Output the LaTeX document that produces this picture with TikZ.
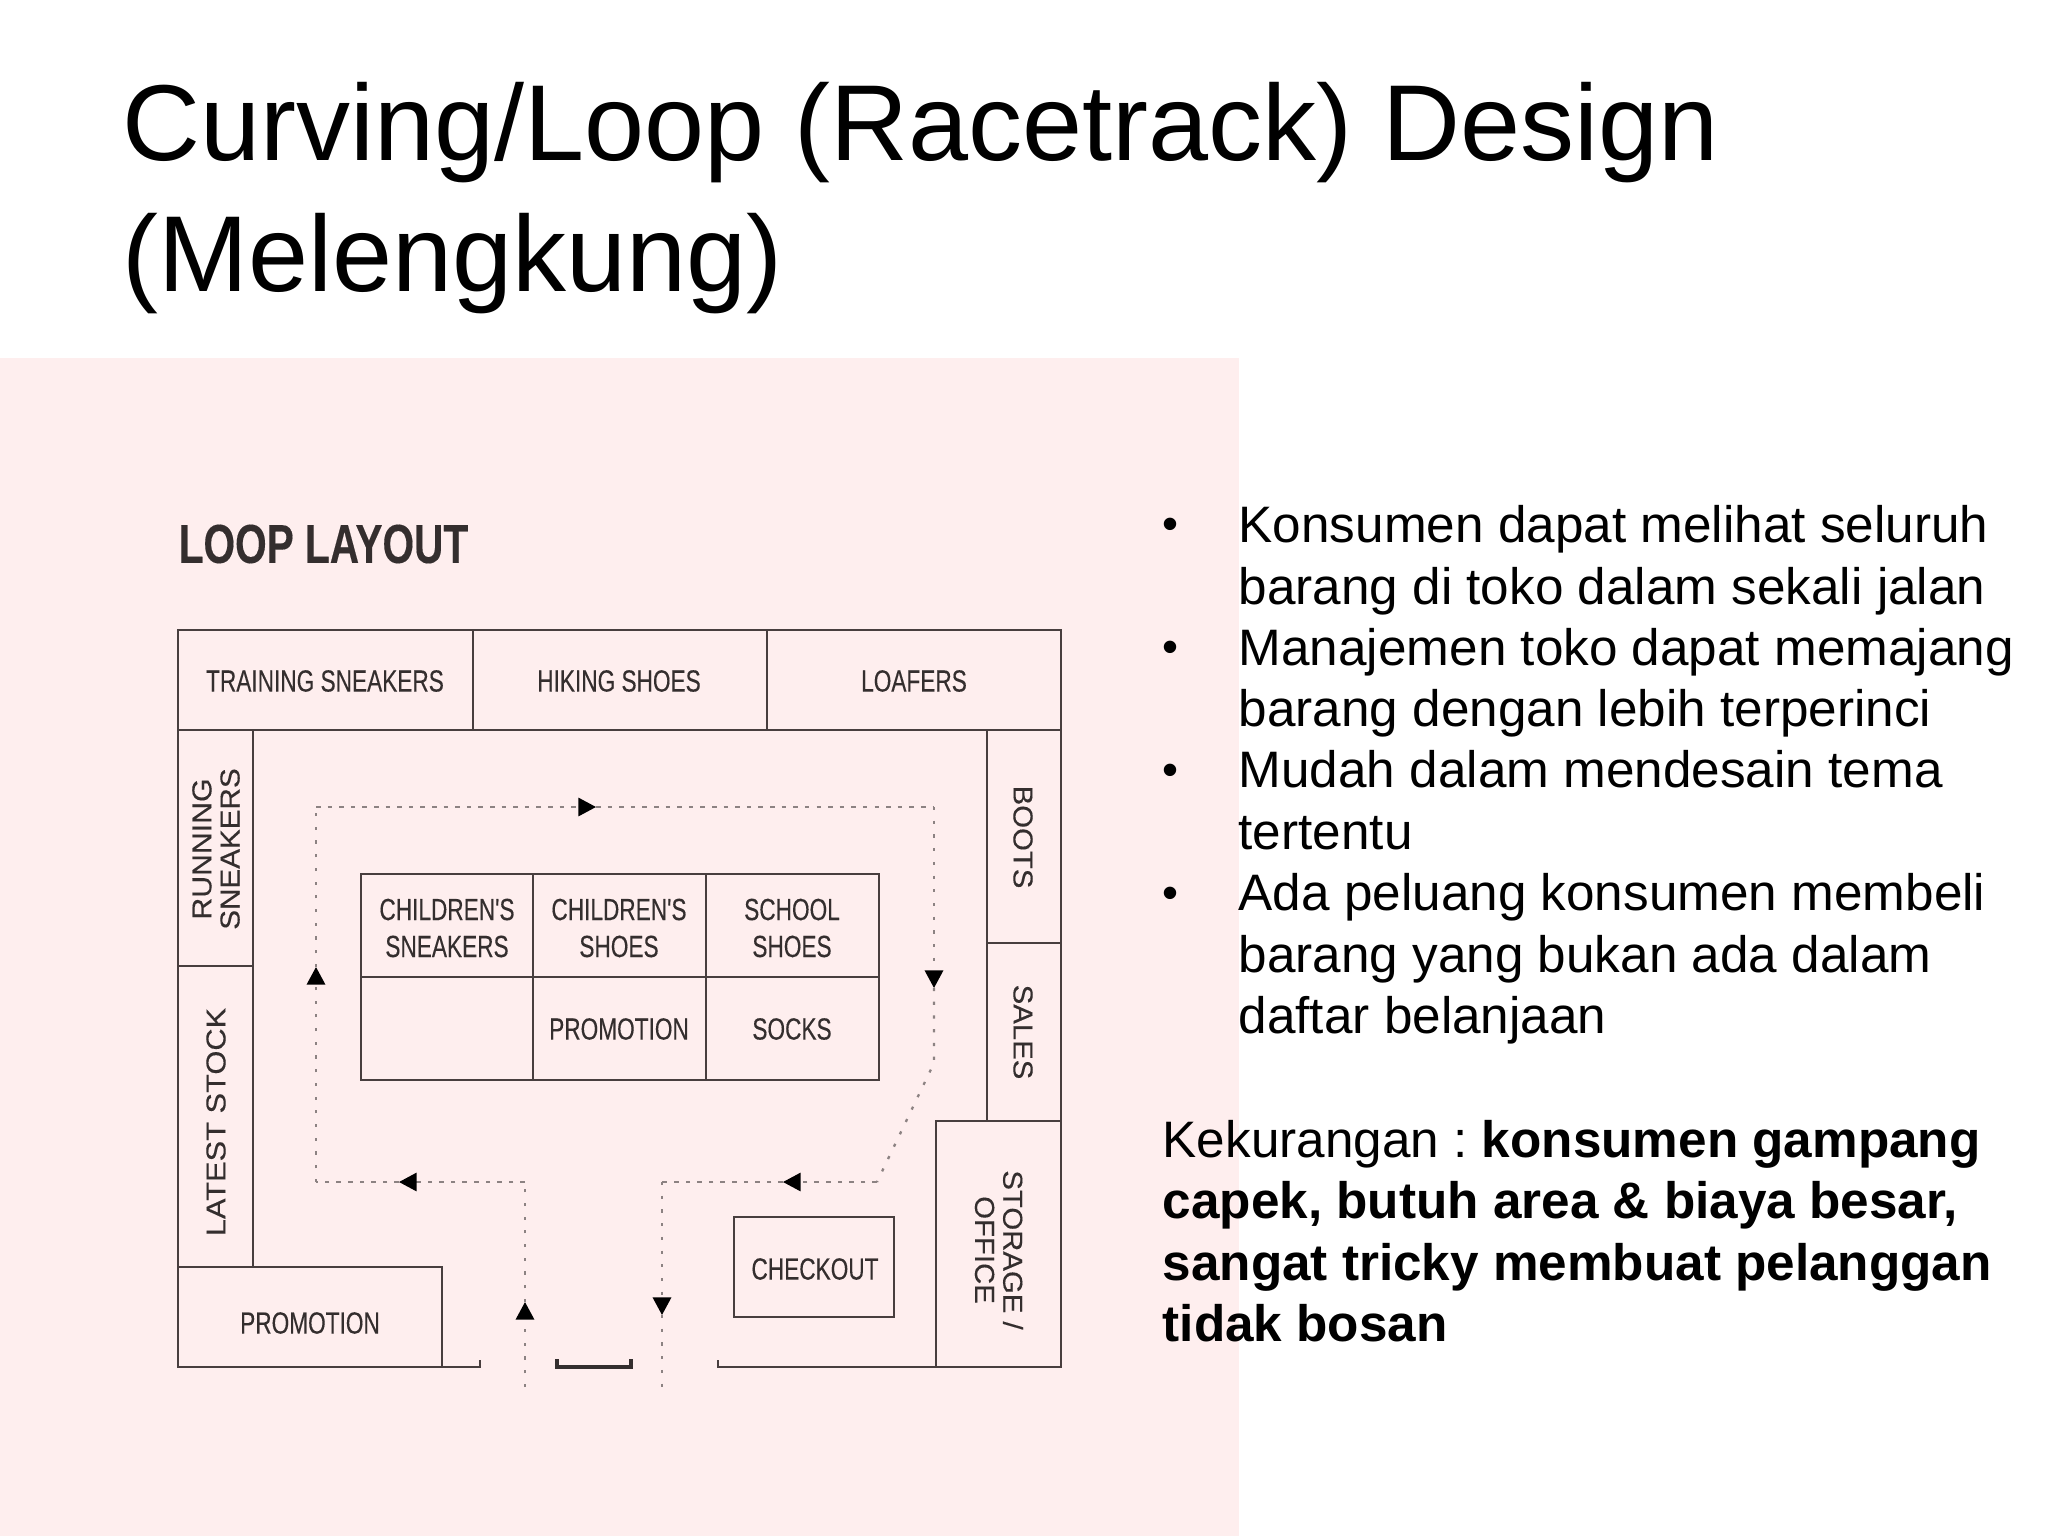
\documentclass[tikz,border=0pt]{standalone}
\usepackage{xcolor}
\usepackage{fontspec}
\setmainfont{Liberation Sans}
\newfontfamily\planfont[FakeStretch=0.74,FakeBold=0.25]{Liberation Sans}
\newfontfamily\wallfont[FakeStretch=1.07,FakeBold=0.25]{Liberation Sans}
\usetikzlibrary{arrows.meta, positioning}
\definecolor{figpink}{RGB}{254,238,238}
\definecolor{figline}{RGB}{72,62,62}
\definecolor{figink}{RGB}{52,46,46}
\definecolor{figwalk}{RGB}{140,130,130}
\tikzstyle{wall} = [draw=figline, line width=0.7pt]
\tikzstyle{door} = [draw=figink, line width=1pt]
\tikzstyle{shelf} = [font=\planfont\fontsize{8.7}{10.5}\selectfont, text=figink, align=center, inner sep=0pt]
\tikzstyle{sideshelf} = [font=\wallfont\fontsize{7.8}{8}\selectfont, text=figink, align=center, inner sep=0pt]
\tikzstyle{bodytext} = [font=\fontsize{14.58}{17.45}\selectfont\frenchspacing, anchor=north west, align=left, inner sep=0pt]
\tikzstyle{bulletmark} = [font=\fontsize{13}{14}\selectfont, inner sep=0pt]
\tikzstyle{walkh} = [draw=figwalk, line width=0.55pt, dash pattern=on 1.3pt off 2pt]
\tikzstyle{walkv} = [draw=figwalk, line width=0.65pt, dash pattern=on 0.9pt off 3pt]
\tikzstyle{tip} = [-{Triangle[length=5pt, width=5.2pt, color=black, fill=black]}]

\begin{document}
\begin{tikzpicture}[x=0.01cm, y=-0.01cm]
    \useasboundingbox (0,0) rectangle (2048,1536);
    \fill[figpink] (0,358) rectangle (1239,1536);

    \node[font=\fontsize{30.7}{37}\selectfont, anchor=north west, align=left, inner sep=0pt] (title) at (122,82)
        {Curving/Loop (Racetrack) Design\\(Melengkung)};
    \node[font=\planfont\bfseries\fontsize{15.6}{18}\selectfont, text=figink, anchor=west, inner sep=0pt] (planhead) at (178,544) {LOOP LAYOUT};

    \draw[wall] (178,630)  rectangle (473,730);
    \draw[wall] (473,630)  rectangle (767,730);
    \draw[wall] (767,630)  rectangle (1061,730);
    \draw[wall] (178,730)  rectangle (253,966);
    \draw[wall] (178,966)  rectangle (253,1267);
    \draw[wall] (178,1267) rectangle (442,1367);
    \draw[wall] (987,730)  rectangle (1061,943);
    \draw[wall] (987,943)  rectangle (1061,1121);
    \draw[wall] (936,1121) rectangle (1061,1367);
    \draw[wall] (361,874)  rectangle (533,977);
    \draw[wall] (533,874)  rectangle (706,977);
    \draw[wall] (706,874)  rectangle (879,977);
    \draw[wall] (361,977)  rectangle (533,1080);
    \draw[wall] (533,977)  rectangle (706,1080);
    \draw[wall] (706,977)  rectangle (879,1080);
    \draw[wall] (734,1217) rectangle (894,1317);
    \draw[wall] (442,1367) -- (480,1367) -- (480,1360);
    \draw[door] (557,1359) -- (557,1367) -- (631,1367) -- (631,1359);
    \draw[wall] (718,1360) -- (718,1367) -- (936,1367);

    \node[shelf] (training)  at (325,681)  {TRAINING SNEAKERS};
    \node[shelf] (hiking)    at (619,681)  {HIKING SHOES};
    \node[shelf] (loafers)   at (914,681)  {LOAFERS};
    \node[shelf] (kidsneak)  at (447,928)  {CHILDREN'S\\SNEAKERS};
    \node[shelf] (kidshoes)  at (619,928)  {CHILDREN'S\\SHOES};
    \node[shelf] (school)    at (792,928)  {SCHOOL\\SHOES};
    \node[shelf] (promomid)  at (619,1029) {PROMOTION};
    \node[shelf] (socks)     at (792,1029) {SOCKS};
    \node[shelf] (promofront) at (310,1323) {PROMOTION};
    \node[shelf] (checkout)  at (815,1269) {CHECKOUT};
    \node[sideshelf, rotate=90]  (running) at (216,849)  {\scalebox{1.03}[1]{RUNNING}\\\scalebox{1.01}[1]{SNEAKERS}};
    \node[sideshelf, rotate=90]  (latest)  at (216,1122) {\scalebox{1.05}[1]{LATEST STOCK}};
    \node[sideshelf, rotate=-90] (boots)   at (1023,837) {BOOTS};
    \node[sideshelf, rotate=-90] (sales)   at (1023,1032) {SALES};
    \node[sideshelf, rotate=-90] (storage) at (999,1250) {STORAGE /\\OFFICE};

    \coordinate (in)    at (525,1387);
    \coordinate (in1)   at (525,1302);
    \coordinate (in2)   at (525,1182);
    \coordinate (back1) at (399,1182);
    \coordinate (back2) at (316,1182);
    \coordinate (left1) at (316,967);
    \coordinate (left2) at (316,807);
    \coordinate (top1)  at (596,807);
    \coordinate (top2)  at (934,807);
    \coordinate (right1) at (934,988);
    \coordinate (right2) at (934,1063);
    \coordinate (bend)  at (877,1182);
    \coordinate (low1)  at (783,1182);
    \coordinate (low2)  at (662,1182);
    \coordinate (out1)  at (662,1315);
    \coordinate (out)   at (662,1387);
    \draw[walkv, tip] (in) -- (in1);
    \draw[walkv] (in1) -- (in2);
    \draw[walkh, tip] (in2) -- (back1);
    \draw[walkh] (back1) -- (back2);
    \draw[walkv, tip] (back2) -- (left1);
    \draw[walkv] (left1) -- (left2);
    \draw[walkh, tip] (left2) -- (top1);
    \draw[walkh] (top1) -- (top2);
    \draw[walkv, tip] (top2) -- (right1);
    \draw[walkv] (right1) -- (right2) -- (bend);
    \draw[walkh, tip] (bend) -- (low1);
    \draw[walkh] (low1) -- (low2);
    \draw[walkv, tip] (low2) -- (out1);
    \draw[walkv] (out1) -- (out);

    \node[bulletmark] (dot1) at (1170,529) {•};
    \node[bulletmark] (dot2) at (1170,652) {•};
    \node[bulletmark] (dot3) at (1170,775) {•};
    \node[bulletmark] (dot4) at (1170,898) {•};
    \node[bodytext] (point1) at (1238,505) {Konsumen dapat melihat seluruh\\barang di toko dalam sekali jalan};
    \node[bodytext] (point2) at (1238,627.5) {Manajemen toko dapat memajang\\barang dengan lebih terperinci};
    \node[bodytext] (point3) at (1238,750) {Mudah dalam mendesain tema\\tertentu};
    \node[bodytext] (point4) at (1238,873) {Ada peluang konsumen membeli\\barang yang bukan ada dalam\\daftar belanjaan};
    \node[bodytext] (minus) at (1162,1119.5) {Kekurangan : \textbf{konsumen gampang}\\\textbf{capek, butuh area \& biaya besar,}\\\textbf{sangat tricky membuat pelanggan}\\\textbf{tidak bosan}};
\end{tikzpicture}
\end{document}
